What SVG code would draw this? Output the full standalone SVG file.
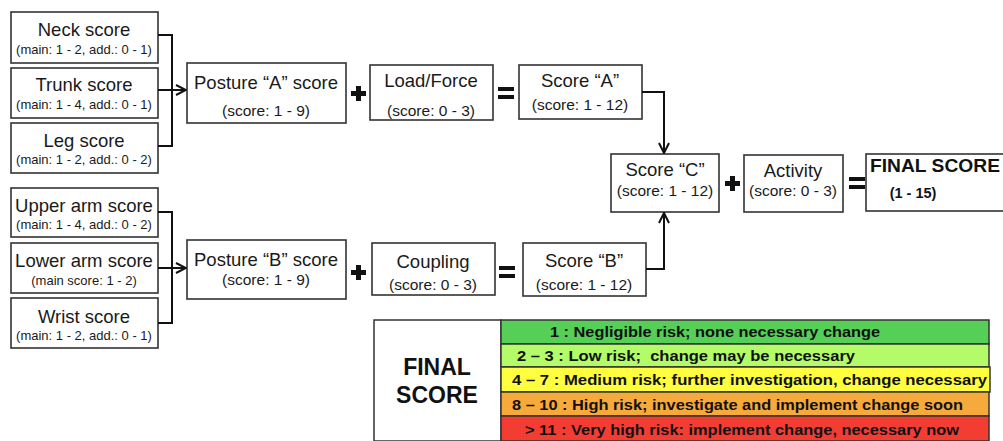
<svg xmlns="http://www.w3.org/2000/svg" width="1003" height="441" viewBox="0 0 1003 441">
<defs>
<marker id="arr" viewBox="0 0 12 12" refX="11" refY="6" markerWidth="12" markerHeight="12" markerUnits="userSpaceOnUse" orient="auto">
<path d="M1,1 L11,6 L1,11" fill="none" stroke="#111" stroke-width="2"/>
</marker>
</defs>
<style>
.box{fill:#fff;stroke:#333;stroke-width:1.6}
.m{font-family:"Liberation Sans",Arial,sans-serif;font-size:18.5px;fill:#1a1a1a;text-anchor:middle}
.s{font-family:"Liberation Sans",Arial,sans-serif;font-size:13px;fill:#1a1a1a;text-anchor:middle}
.s2{font-family:"Liberation Sans",Arial,sans-serif;font-size:15.5px;fill:#1a1a1a;text-anchor:middle}
.b{font-family:"Liberation Sans",Arial,sans-serif;font-weight:bold;fill:#111}
.lg{font-family:"Liberation Sans",Arial,sans-serif;font-weight:bold;font-size:15px;fill:#111}
.con{fill:none;stroke:#111;stroke-width:2}
.op{fill:#111}
.row{stroke:#333;stroke-width:1.5}
</style>
<g id="neck"><rect class="box" x="11" y="12" width="147" height="51"/><text class="m" x="84" y="36">Neck score</text><text class="s" x="84" y="54">(main: 1 - 2, add.: 0 - 1)</text></g>
<g id="trunk"><rect class="box" x="11" y="68" width="147" height="50"/><text class="m" x="84" y="91">Trunk score</text><text class="s" x="84" y="109">(main: 1 - 4, add.: 0 - 1)</text></g>
<g id="leg"><rect class="box" x="11" y="123" width="147" height="50"/><text class="m" x="84" y="147">Leg score</text><text class="s" x="84" y="164">(main: 1 - 2, add.: 0 - 2)</text></g>
<g id="upperarm"><rect class="box" x="11" y="188" width="147" height="49"/><text class="m" x="84" y="212">Upper arm score</text><text class="s" x="84" y="229">(main: 1 - 4, add.: 0 - 2)</text></g>
<g id="lowerarm"><rect class="box" x="11" y="243" width="147" height="50"/><text class="m" x="84" y="267">Lower arm score</text><text class="s" x="84" y="285">(main score: 1 - 2)</text></g>
<g id="wrist"><rect class="box" x="11" y="298" width="147" height="50"/><text class="m" x="84" y="323">Wrist score</text><text class="s" x="84" y="340">(main: 1 - 2, add.: 0 - 1)</text></g>
<g id="postureA"><rect class="box" x="187" y="63" width="159" height="60"/><text class="m" x="266" y="89">Posture “A” score</text><text class="s2" x="266" y="116">(score: 1 - 9)</text></g>
<g id="load"><rect class="box" x="370" y="65" width="123" height="55"/><text class="m" x="431" y="87">Load/Force</text><text class="s2" x="431" y="116">(score: 0 - 3)</text></g>
<g id="scoreA"><rect class="box" x="519" y="65" width="123" height="54"/><text class="m" x="580" y="87">Score “A”</text><text class="s2" x="580" y="110">(score: 1 - 12)</text></g>
<g id="postureB"><rect class="box" x="187" y="240" width="159" height="59"/><text class="m" x="266" y="266">Posture “B” score</text><text class="s2" x="266" y="285">(score: 1 - 9)</text></g>
<g id="coupling"><rect class="box" x="372" y="243" width="123" height="52"/><text class="m" x="433" y="268">Coupling</text><text class="s2" x="433" y="290">(score: 0 - 3)</text></g>
<g id="scoreB"><rect class="box" x="523" y="243" width="123" height="53"/><text class="m" x="584" y="267">Score “B”</text><text class="s2" x="584" y="290">(score: 1 - 12)</text></g>
<g id="scoreC"><rect class="box" x="611" y="154" width="108" height="58"/><text class="m" x="665" y="176">Score “C”</text><text class="s2" x="665" y="196">(score: 1 - 12)</text></g>
<g id="activity"><rect class="box" x="744" y="155" width="99" height="57"/><text class="m" x="793" y="177">Activity</text><text class="s2" x="793" y="196">(score: 0 - 3)</text></g>
<g id="final"><rect class="box" x="866" y="154" width="140" height="57"/><text class="b" x="870" y="172" font-size="17.5" textLength="130" lengthAdjust="spacingAndGlyphs">FINAL SCORE</text><text class="b" x="913" y="198" font-size="14.5" text-anchor="middle">(1 - 15)</text></g>
<g id="operators">
<rect class="op" x="351" y="91" width="15" height="5"/><rect class="op" x="356" y="86" width="5" height="15"/>
<rect class="op" x="498" y="87" width="16" height="4"/><rect class="op" x="498" y="95" width="16" height="4"/>
<rect class="op" x="351" y="270" width="15" height="5"/><rect class="op" x="356" y="265" width="5" height="15"/>
<rect class="op" x="499" y="266" width="16" height="4"/><rect class="op" x="499" y="274" width="16" height="4"/>
<rect class="op" x="725" y="181" width="15" height="5"/><rect class="op" x="730" y="176" width="5" height="15"/>
<rect class="op" x="849" y="177" width="16" height="4"/><rect class="op" x="849" y="185" width="16" height="4"/>
</g>
<g id="connectors">
<path class="con" d="M158,35 H172 V146 H158"/>
<path class="con" d="M158,90 H186" marker-end="url(#arr)"/>
<path class="con" d="M158,212 H172 V323 H158"/>
<path class="con" d="M158,268 H186" marker-end="url(#arr)"/>
<path class="con" d="M642,92 H664 V153" marker-end="url(#arr)"/>
<path class="con" d="M646,269 H664 V213" marker-end="url(#arr)"/>
</g>
<g id="legend">
<rect x="374" y="320" width="127" height="121" fill="#fff" stroke="#333" stroke-width="1.5"/>
<text class="b" x="437" y="375" font-size="23" text-anchor="middle">FINAL</text>
<text class="b" x="437" y="403" font-size="23" text-anchor="middle">SCORE</text>
<rect class="row" x="501" y="320" width="488" height="24" fill="#56cf57"/>
<rect class="row" x="501" y="344" width="488" height="23" fill="#b3fb69"/>
<rect class="row" x="501" y="367" width="489" height="25" fill="#ffff3f"/>
<rect class="row" x="501" y="392" width="488" height="24" fill="#f7aa3c"/>
<rect class="row" x="501" y="416" width="488" height="25" fill="#f33d33"/>
<text class="lg" x="550" y="337" textLength="330" lengthAdjust="spacingAndGlyphs">1 : Negligible risk; none necessary change</text>
<text class="lg" x="517" y="361" xml:space="preserve" textLength="338" lengthAdjust="spacingAndGlyphs">2 – 3 : Low risk;  change may be necessary</text>
<text class="lg" x="512" y="385" textLength="475" lengthAdjust="spacingAndGlyphs">4 – 7 : Medium risk; further investigation, change necessary</text>
<text class="lg" x="512" y="410" textLength="451" lengthAdjust="spacingAndGlyphs">8 – 10 : High risk; investigate and implement change soon</text>
<text class="lg" x="525" y="435" textLength="434" lengthAdjust="spacingAndGlyphs">&gt; 11 : Very high risk: implement change, necessary now</text>
</g>
</svg>
